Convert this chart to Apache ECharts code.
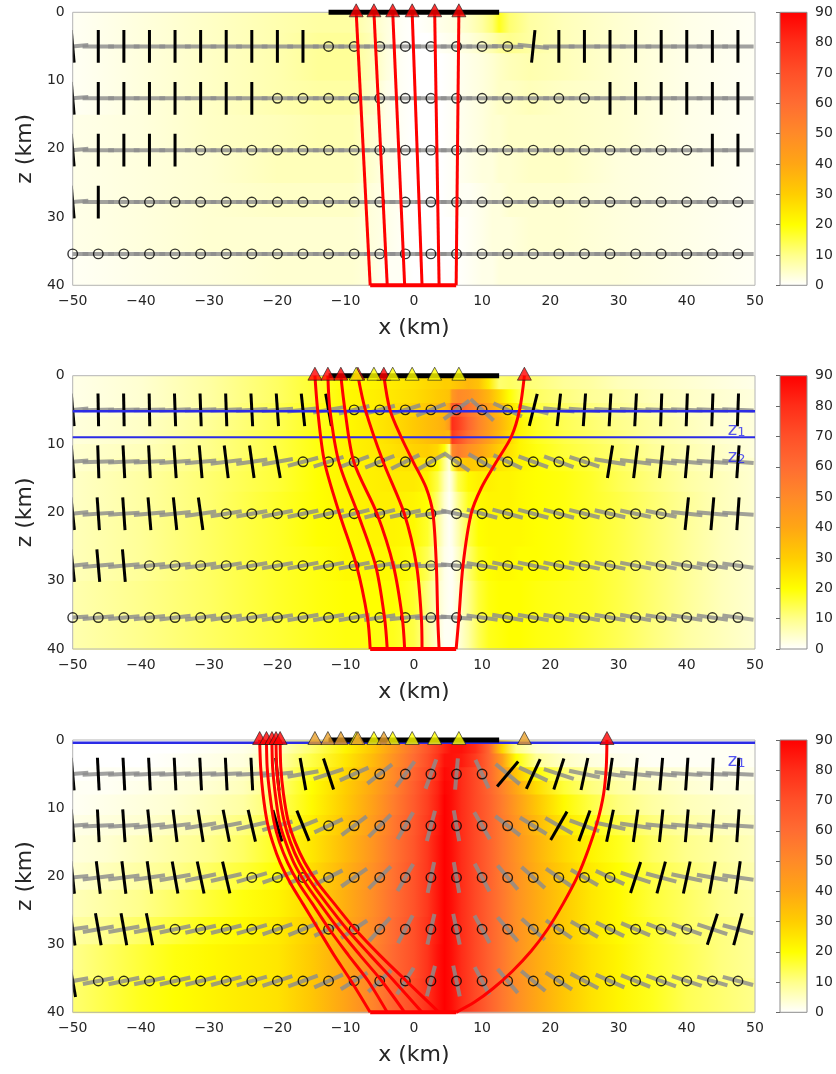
<!DOCTYPE html>
<html>
<head>
<meta charset="utf-8">
<title>chart</title>
<script src="https://cdn.jsdelivr.net/npm/echarts/dist/echarts.min.js"></script>
<style>
html,body{margin:0;padding:0;background:#ffffff;}
#chart{width:836px;height:1074px;}
</style>
</head>
<body>
<div id="chart"></div>
<script>
// ================= DATA =================
const stationX = [-50,-46.25,-42.5,-38.75,-35,-31.25,-27.5,-23.75,-20,-16.25,-12.5,-8.75,-5,-1.25,2.5,6.25,10,13.75,17.5,21.25,25,28.75,32.5,36.25,40,43.75,47.5];
const stationZ = [5, 12.6, 20.2, 27.8, 35.4];

// orientation of the grey segments (deg, + = rising to the right); black bars are perpendicular
const angle1 = [
  [5,0,0,0,0,0,0,0,0,0,0,0,0,0,0,0,0,-2,-6,0,0,0,0,0,0,0,0],
  [5,0,0,0,0,0,0,0,0,0,0,0,0,0,0,0,0,0,0,0,0,0,0,0,0,0,0],
  [5,0,0,0,0,0,0,0,0,0,0,0,0,0,0,0,0,0,0,0,0,0,0,0,0,0,0],
  [5,0,0,0,0,0,0,0,0,0,0,0,0,0,0,0,0,0,0,0,0,0,0,0,0,0,0],
  [0,0,0,0,0,0,0,0,0,0,0,0,0,0,0,0,0,0,0,0,0,0,0,0,0,0,0]
];
const angle2 = [
  [5,1,1,1,2,2,2,3,4,6,10,14,15,17,22,36,-43,-25,-14,-6,-4,-3,-3,-2,-2,-2,-2],
  [5,2,3,3,4,5,7,8,10,15,18,20,22,26,30,-35,-30,-25,-20,-20,-18,-9,-7,-6,-5,-4,-4],
  [6,4,4,5,6,8,9,10,11,12,13,14,14,12,8,-12,-15,-15,-15,-15,-14,-13,-12,-11,-6,-5,-4],
  [6,5,5,6,7,8,9,10,10,11,11,11,10,6,2,-5,-10,-12,-12,-12,-12,-12,-11,-11,-10,-9,-8],
  [4,5,5,6,7,8,8,9,9,10,10,10,9,6,2,-4,-8,-10,-10,-10,-10,-10,-10,-9,-9,-8,-8]
];
const angle3 = [
  [5,3,3,3,3,3,3,3,6,10,18,24,38,54,70,85,-65,-40,-25,-18,-12,-8,-6,-5,-4,-3,-3],
  [5,3,4,6,7,9,11,13,16,22,25,37,45,60,75,-80,-60,-38,-32,-30,-20,-12,-8,-6,-5,-5,-4],
  [6,7,7,8,10,12,13,16,19,22,27,35,45,60,78,-80,-62,-50,-42,-35,-30,-25,-18,-15,-12,-10,-8],
  [8,10,10,11,12,13,14,16,19,22,25,34,48,62,77,-78,-61,-50,-42,-35,-30,-26,-23,-21,-19,-18,-15],
  [10,11,12,12,13,14,15,16,18,20,24,32,43,58,75,-78,-62,-50,-40,-33,-28,-24,-22,-20,-18,-16,-15]
];
// per row: number of black bars from the left edge, first column index of black bars on the right
const barsLeft1 = [10,8,5,2,0],  barsRight1 = [18,21,25,27,27];
const barsLeft2 = [11,9,6,3,0],  barsRight2 = [18,21,24,27,27];
const barsLeft3 = [11,10,7,4,1], barsRight3 = [17,19,22,25,27];

// background field: sample x positions, strip edges in z, values per strip
const heatX1 = [-50,-40,-30,-20,-14,-9,-6,-4,-2,0,2,4,6,8,10,11.5,12.5,14,17,22,30,40,50];
const heatZ1 = [0,3,6,10,15,20,25,30,35,40];
const heatV1 = [
  [1,3,5,7,8,8,5,3,1,0,1,2,3,5,8,12,18,12,8,6,4,2,1],
  [1,3,5,7,9,9,6,3,1,0,0,1,2,3,5,7,9,10,8,6,4,2,1],
  [1,3,5,7,9,9,6,3,1,0,0,0,1,2,3,4,5,6,7,6,4,2,1],
  [1,3,5,7,8,8,5,2,1,0,0,0,1,2,3,4,5,5,6,5,4,2,1],
  [2,3,5,6,7,7,4,2,1,0,0,0,1,2,3,4,4,5,5,5,4,2,1],
  [2,3,4,6,6,6,4,2,1,0,0,0,1,2,3,3,4,4,5,5,3,2,1],
  [2,3,4,5,5,5,3,2,1,0,0,0,1,1,2,3,3,4,4,4,3,2,1],
  [2,3,4,4,4,4,3,2,1,0,0,0,0,1,2,3,3,3,4,4,3,2,1],
  [1,2,3,4,4,4,3,1,1,0,0,0,0,1,2,2,3,3,3,3,3,2,1]
];
const heatX2 = [-50,-40,-30,-20,-14,-10,-6,-3,0,2,3.5,4.5,5.2,5.6,6.5,8,9.5,11,12.5,14,15.5,18,22,26,30,35,40,45,50];
const heatZ2 = [0,2,4,6,8,10,12,14,17,20,25,30,35,40];
const heatV2 = [
  [2,4,8,13,17,20,22,24,26,28,29,30,30,31,33,36,33,24,12,13,12,11,9,8,6,5,4,3,2],
  [2,4,8,13,17,21,23,25,27,29,31,32,33,45,50,48,42,36,28,20,15,13,11,9,8,6,5,4,3],
  [2,4,8,14,18,21,23,26,29,32,34,36,40,66,68,58,50,42,35,27,20,15,13,11,9,7,5,4,3],
  [3,5,9,14,18,21,24,27,31,34,36,38,45,80,75,62,52,44,37,30,22,17,14,12,10,8,6,4,3],
  [3,5,10,15,19,22,24,27,31,34,35,36,35,76,70,58,50,42,35,28,22,18,15,13,11,8,6,4,3],
  [4,6,10,15,19,22,24,26,29,30,28,20,10,50,55,48,42,36,30,26,22,19,16,14,12,9,7,5,3],
  [4,7,11,16,20,22,23,25,26,25,20,10,3,15,30,32,30,28,25,23,22,20,18,16,13,10,7,5,4],
  [5,8,12,16,20,22,23,24,24,22,15,6,2,5,15,21,23,23,22,22,21,20,19,17,14,11,8,6,4],
  [5,8,12,17,20,22,23,23,22,20,12,4,1,3,10,18,21,22,22,22,21,20,19,17,15,12,9,6,4],
  [6,9,13,17,20,21,22,22,21,17,9,3,1,2,7,15,20,21,21,21,21,20,19,17,15,12,9,6,4],
  [6,9,13,17,19,21,21,21,19,14,7,2,1,1,5,12,18,20,21,21,20,20,19,17,15,12,9,6,4],
  [7,10,13,17,19,20,20,20,17,11,5,2,1,1,4,10,16,19,20,20,20,19,18,17,15,12,9,6,4],
  [7,10,13,16,18,19,19,18,15,9,4,1,1,1,3,8,14,18,19,20,20,19,18,16,14,11,8,6,4]
];
const heatX3 = [-50,-45,-40,-35,-30,-25,-20,-15,-10,-6,-3,0,2,3.5,4.5,5.5,7,9,11,13,15,18,22,26,30,35,40,45,50];
const heatZ3 = [0,2,4,6,8,11,14,18,22,26,30,35,40];
const heatV3 = [
  [0,0,0,0,1,2,5,12,22,32,44,58,68,76,82,86,86,80,62,28,10,4,2,1,1,1,1,1,1],
  [0,0,0,1,2,3,7,15,25,35,47,60,70,78,86,86,84,76,62,42,20,9,5,3,2,1,1,1,1],
  [0,1,1,2,3,5,9,18,28,38,50,63,72,80,88,86,80,72,62,46,32,20,12,8,6,4,3,2,2],
  [1,1,2,3,4,6,11,20,30,40,52,65,74,82,89,87,80,72,63,52,40,27,16,11,8,6,4,3,3],
  [1,2,3,4,6,8,13,21,31,42,54,66,75,83,90,87,80,72,64,54,44,32,21,15,11,8,6,5,4],
  [2,3,4,6,8,11,16,23,33,44,56,67,76,84,90,87,80,72,64,55,46,35,25,19,15,11,8,6,5],
  [3,4,6,8,10,13,18,25,35,46,57,68,77,85,90,87,80,72,64,55,47,37,28,22,18,13,10,8,6],
  [4,6,8,10,13,16,20,27,37,48,58,69,77,85,90,87,80,72,64,55,48,38,30,24,20,15,12,9,7],
  [6,8,10,13,16,19,22,28,38,49,59,69,77,85,90,87,80,72,64,56,48,39,31,25,21,16,13,10,8],
  [8,10,13,16,19,21,24,30,39,50,60,70,78,85,90,87,80,72,64,56,48,39,31,25,21,17,13,11,9],
  [10,13,16,19,21,23,25,31,40,51,61,70,78,86,90,87,80,72,64,56,48,39,32,26,22,17,14,11,9],
  [12,15,18,20,22,24,26,32,41,52,62,71,79,86,90,87,80,72,64,56,49,40,32,26,22,18,14,12,10]
];

// ray paths [x, z] from the bottom (z = 40) to the surface
const rays1 = [
  [[-6.4,40],[-8.45,0]],
  [[-3.9,40],[-5.85,0]],
  [[-1.35,40],[-3.1,0]],
  [[1.2,40],[-0.25,0]],
  [[3.7,40],[3.05,0]],
  [[6.2,40],[6.6,0]]
];
const rays2 = [
  [[-6.4,40],[-6.8,35.4],[-8.4,27.8],[-10.9,20.2],[-13.1,12.6],[-14.1,5],[-14.5,0]],
  [[-3.9,40],[-4.3,35.4],[-5.6,27.8],[-8.2,20.2],[-11.0,12.6],[-12.3,5],[-12.6,0]],
  [[-1.35,40],[-1.7,35.4],[-3.0,27.8],[-5.4,20.2],[-8.8,12.6],[-10.1,5],[-10.7,0]],
  [[1.2,40],[1.1,35.4],[0.4,27.8],[-1.4,20.2],[-4.5,12.6],[-7.1,5],[-8.2,0]],
  [[3.7,40],[3.5,35.4],[3.3,27.8],[2.8,20.2],[1.8,16.4],[-0.1,12.6],[-1.9,8.9],[-3.5,5],[-4.4,0]],
  [[6.2,40],[6.6,35.4],[7.2,27.8],[8.4,20.2],[9.9,16.4],[12.1,12.6],[14.3,8.9],[15.5,5],[16.2,0]]
];
const rays3 = [
  [[-6.4,40],[-9.2,35.4],[-11.7,31.6],[-14.0,27.8],[-16.3,24],[-18.1,21],[-19.6,18],[-20.7,15],[-21.5,12],[-22.1,8],[-22.45,4],[-22.6,0]],
  [[-3.9,40],[-6.7,35.4],[-9.6,31.6],[-12.4,27.8],[-14.9,24],[-16.9,21],[-18.5,18],[-19.7,15],[-20.5,12],[-21.1,8],[-21.5,4],[-21.6,0]],
  [[-1.35,40],[-4.7,35.4],[-7.9,31.6],[-11.0,27.8],[-13.8,24],[-15.9,21],[-17.6,18],[-18.8,15],[-19.7,12],[-20.3,8],[-20.7,4],[-20.8,0]],
  [[1.2,40],[-2.9,35.4],[-6.4,31.6],[-9.8,27.8],[-12.8,24],[-15.0,21],[-16.8,18],[-18.1,15],[-19.0,12],[-19.7,8],[-20.1,4],[-20.2,0]],
  [[3.7,40],[-1.1,35.4],[-5.0,31.6],[-8.6,27.8],[-11.7,24],[-14.1,21],[-16.0,18],[-17.4,15],[-18.4,12],[-19.1,8],[-19.5,4],[-19.6,0]],
  [[6.2,40],[8.9,38.5],[11.6,36.5],[14.4,34],[17.2,31],[19.6,27.8],[21.9,24],[24.0,20],[25.6,16],[26.9,12],[27.8,8],[28.2,4],[28.3,0]]
];

// surface arrival points (x at z = 0)
const arrivals1 = [-8.45,-5.85,-3.1,-0.25,3.05,6.6];
const arrivals2 = [-14.5,-12.6,-10.7,-8.2,-4.4,16.2];
const arrivals3 = [-22.6,-21.6,-20.8,-20.2,-19.6,28.3];

const sourceBar = [-6.4, 6.2];      // at z = 40
const surfaceBar = [-12.5, 12.5];   // at z = 0
const interfaces2 = [5.2, 9.0];
const interfaces3 = [0.4];
const tags2 = [{sub:'1', x:47.3, z:8.0}, {sub:'2', x:47.3, z:11.9}];
const tags3 = [{sub:'1', x:47.3, z:3.1}];
const colorTicks = [0,10,20,30,40,50,60,70,80,90];

// ================= STYLE / LAYOUT =================
const FONT = 'DejaVu Sans';
const TXT = '#262626';
const plotLeft = 72.7, plotWidth = 682.3;
const plotTops = [12.3, 375.7, 740];
const plotHeights = [273, 273.3, 272.3];
const cbLeft = 780, cbWidth = 27;
const cmapStops = [[0,[255,255,255]],[10,[255,255,140]],[20,[255,255,0]],[30,[255,206,0]],[40,[255,166,20]],[50,[255,138,40]],[60,[255,108,50]],[70,[255,80,40]],[80,[255,45,24]],[90,[255,0,0]]];

function cmap(v) {
  v = Math.max(0, Math.min(90, v));
  for (let i = 1; i < cmapStops.length; i++) {
    if (v <= cmapStops[i][0]) {
      const v0 = cmapStops[i-1][0], c0 = cmapStops[i-1][1], v1 = cmapStops[i][0], c1 = cmapStops[i][1];
      const t = (v - v0) / (v1 - v0);
      return 'rgb(' + c0.map((c, j) => Math.round(c + (c1[j] - c) * t)).join(',') + ')';
    }
  }
  return 'rgb(255,0,0)';
}
const minusFmt = v => (v < 0 ? '\u2212' + Math.abs(v) : String(v));

const panels = [
  {ang: angle1, L: barsLeft1, R: barsRight1, hx: heatX1, hz: heatZ1, hv: heatV1, rays: rays1,
   tri: [[arrivals1, '#ff0000']], iface: [], tags: []},
  {ang: angle2, L: barsLeft2, R: barsRight2, hx: heatX2, hz: heatZ2, hv: heatV2, rays: rays2,
   tri: [[arrivals2, '#ff0000'], [arrivals1, '#ffff00']], iface: interfaces2, tags: tags2},
  {ang: angle3, L: barsLeft3, R: barsRight3, hx: heatX3, hz: heatZ3, hv: heatV3, rays: rays3,
   tri: [[arrivals1, '#ffff00'], [arrivals2, '#e8a02a'], [arrivals3, '#ff0000']], iface: interfaces3, tags: tags3}
];

const grids = [], xAxes = [], yAxes = [], series = [];

panels.forEach((P, p) => {
  grids.push({left: plotLeft, top: plotTops[p], width: plotWidth, height: plotHeights[p]});
  xAxes.push({type: 'value', gridIndex: p, min: -50, max: 50, interval: 10,
    axisLine: {show: false}, axisTick: {show: false}, splitLine: {show: false},
    axisLabel: {fontSize: 14, color: TXT, fontFamily: FONT, margin: 9, formatter: minusFmt},
    name: 'x (km)', nameLocation: 'middle', nameGap: 32,
    nameTextStyle: {fontSize: 22, color: TXT, fontFamily: FONT}});
  yAxes.push({type: 'value', gridIndex: p, min: 0, max: 40, interval: 10, inverse: true,
    axisLine: {show: false}, axisTick: {show: false}, splitLine: {show: false},
    axisLabel: {fontSize: 14, color: TXT, fontFamily: FONT, margin: 8},
    name: 'z (km)', nameLocation: 'middle', nameGap: 34, nameRotate: 90,
    nameTextStyle: {fontSize: 22, color: TXT, fontFamily: FONT}});

  // background field strips
  series.push({
    type: 'custom', xAxisIndex: p, yAxisIndex: p, z: 1, silent: true,
    data: P.hv.map((row, k) => [P.hx[0], P.hz[k], P.hx[P.hx.length - 1], P.hz[k + 1], k]),
    renderItem: function (params, api) {
      const k = api.value(4);
      const a = api.coord([api.value(0), api.value(1)]);
      const b = api.coord([api.value(2), api.value(3)]);
      const span = P.hx[P.hx.length - 1] - P.hx[0];
      const stops = P.hx.map((x, j) => ({offset: (x - P.hx[0]) / span, color: cmap(P.hv[k][j])}));
      return {type: 'rect', shape: {x: a[0], y: a[1], width: b[0] - a[0], height: b[1] - a[1] + 1},
        style: {fill: new echarts.graphic.LinearGradient(0, 0, 1, 0, stops)}};
    }
  });

  const greyItems = [], barItems = [], ringItems = [];
  stationZ.forEach((z, r) => stationX.forEach((x, c) => {
    greyItems.push([x, z, P.ang[r][c]]);
    if (c < P.L[r] || c >= P.R[r]) barItems.push([x, z, P.ang[r][c] + 90]);
    else ringItems.push([x, z]);
  }));
  const segSeries = (items, len, color, width, zz) => ({
    type: 'custom', xAxisIndex: p, yAxisIndex: p, z: zz, silent: true, clip: true, data: items,
    renderItem: function (params, api) {
      const x = api.value(0), zc = api.value(1), a = api.value(2) * Math.PI / 180;
      const dx = len / 2 * Math.cos(a), dz = len / 2 * Math.sin(a);
      const p0 = api.coord([x - dx, zc + dz]);
      const p1 = api.coord([x + dx, zc - dz]);
      return {type: 'line', shape: {x1: p0[0], y1: p0[1], x2: p1[0], y2: p1[1]},
        style: {stroke: color, lineWidth: width}};
    }
  });
  series.push(segSeries(greyItems, 4.6, 'rgba(140,140,140,0.82)', 4, 2));
  series.push(segSeries(barItems, 4.8, '#000000', 3, 3));
  series.push({type: 'scatter', xAxisIndex: p, yAxisIndex: p, z: 4, silent: true, data: ringItems,
    symbol: 'circle', symbolSize: 9.5, itemStyle: {color: 'rgba(0,0,0,0)', borderColor: '#000', borderWidth: 1.4}});

  // frame
  series.push({type: 'custom', xAxisIndex: p, yAxisIndex: p, z: 4, silent: true, data: [[-50, 0, 50, 40]],
    renderItem: function (params, api) {
      const a = api.coord([api.value(0), api.value(1)]), b = api.coord([api.value(2), api.value(3)]);
      return {type: 'rect', shape: {x: a[0], y: a[1], width: b[0] - a[0], height: b[1] - a[1]},
        style: {fill: null, stroke: '#b4b4b4', lineWidth: 1}};
    }});

  // interfaces
  P.iface.forEach((zi, i) => {
    series.push({type: 'line', xAxisIndex: p, yAxisIndex: p, z: 5, silent: true, symbol: 'none',
      data: [[-50, zi], [50, zi]], lineStyle: {color: '#2b2be6', width: (p === 1 && i === 1) ? 2 : 2.6}});
  });
  P.tags.forEach(t => {
    series.push({type: 'scatter', xAxisIndex: p, yAxisIndex: p, z: 9, silent: true, symbolSize: 0,
      data: [[t.x, t.z]],
      label: {show: true, position: 'inside', formatter: '{a|z}{b|' + t.sub + '}',
        rich: {a: {fontSize: 18, color: '#2b2bf0', fontFamily: FONT, verticalAlign: 'top', lineHeight: 18},
               b: {fontSize: 13, color: '#2b2bf0', fontFamily: FONT, verticalAlign: 'bottom', lineHeight: 13, padding: [12, 0, 0, 0]}}}});
  });

  // rays
  P.rays.forEach(ray => {
    series.push({type: 'line', xAxisIndex: p, yAxisIndex: p, z: 6, silent: true, symbol: 'none',
      smooth: 0.3, clip: false, data: ray, lineStyle: {color: '#ff0000', width: 3}});
  });
  series.push({type: 'line', xAxisIndex: p, yAxisIndex: p, z: 6, silent: true, symbol: 'none', clip: false,
    data: [[sourceBar[0], 40], [sourceBar[1], 40]], lineStyle: {color: '#ff0000', width: 4}});
  series.push({type: 'line', xAxisIndex: p, yAxisIndex: p, z: 7, silent: true, symbol: 'none', clip: false,
    data: [[surfaceBar[0], 0], [surfaceBar[1], 0]], lineStyle: {color: '#000000', width: 5}});
  P.tri.forEach((set, i) => {
    series.push({type: 'scatter', xAxisIndex: p, yAxisIndex: p, z: 8 + i * 0.01, silent: true, clip: false,
      data: set[0].map(x => [x, 0]), symbol: 'triangle', symbolSize: [14, 13], symbolOffset: [0, -2],
      itemStyle: {color: set[1], borderColor: '#1a1a1a', borderWidth: 0.8}});
  });
});

// colorbars
panels.forEach((P, p) => {
  const gi = 3 + p;
  grids.push({left: cbLeft, top: plotTops[p], width: cbWidth, height: plotHeights[p]});
  xAxes.push({type: 'value', gridIndex: gi, min: 0, max: 1, show: false});
  yAxes.push({type: 'value', gridIndex: gi, min: colorTicks[0], max: colorTicks[colorTicks.length - 1], interval: 10,
    position: 'right', z: 10, axisLine: {show: false}, splitLine: {show: false},
    axisTick: {show: true, inside: true, length: 4, lineStyle: {color: '#666'}},
    axisLabel: {fontSize: 14, color: TXT, fontFamily: FONT, margin: 8}});
  series.push({type: 'custom', xAxisIndex: gi, yAxisIndex: gi, z: 1, silent: true, data: [[0, 90, 1, 0]],
    renderItem: function (params, api) {
      const a = api.coord([api.value(0), api.value(1)]), b = api.coord([api.value(2), api.value(3)]);
      const stops = cmapStops.slice().reverse().map(s => ({offset: 1 - s[0] / 90, color: cmap(s[0])}));
      return {type: 'rect', shape: {x: a[0], y: a[1], width: b[0] - a[0], height: b[1] - a[1]},
        style: {fill: new echarts.graphic.LinearGradient(0, 0, 0, 1, stops), stroke: '#8c8c8c', lineWidth: 1}};
    }});
});

const chart = echarts.init(document.getElementById('chart'), null, {renderer: 'canvas'});
chart.setOption({
  animation: false,
  backgroundColor: '#ffffff',
  textStyle: {fontFamily: FONT},
  grid: grids, xAxis: xAxes, yAxis: yAxes, series: series
});
</script>
</body>
</html>
